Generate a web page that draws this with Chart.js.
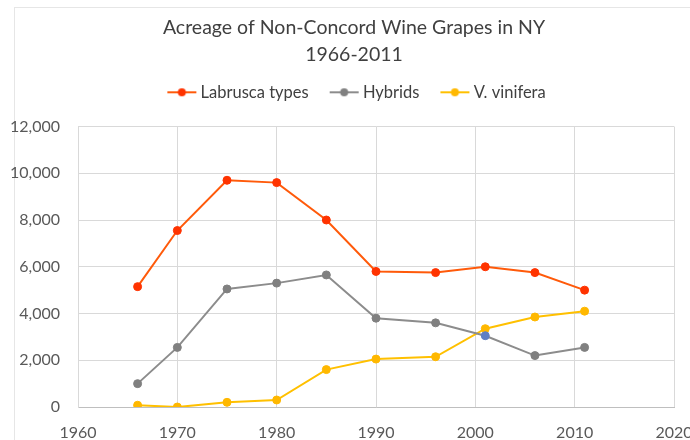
<!DOCTYPE html>
<html>
<head>
<meta charset="utf-8">
<script src="https://cdn.jsdelivr.net/npm/chart.js@4"></script>
<style>
  html, body { margin: 0; padding: 0; background: #fff; }
  #wrap { position: relative; width: 690px; height: 440px; overflow: hidden; }
  #frame { position: absolute; left: 14px; top: 7px; right: 0; bottom: 0;
           border-left: 1px solid #e6e6e6; border-top: 1px solid #e6e6e6; }
  canvas { position: absolute; left: 0; top: 0; }
</style>
</head>
<body>
<div id="wrap">
  <div id="frame"></div>
  <canvas id="chart" width="708" height="440"></canvas>
</div>
<script>
// Data
const years = [1966, 1970, 1975, 1980, 1985, 1990, 1996, 2001, 2006, 2011];
const labrusca = [5150, 7550, 9700, 9600, 8000, 5800, 5750, 6000, 5750, 5000];
const hybrids = [1000, 2550, 5050, 5300, 5650, 3800, 3600, 3050, 2200, 2550];
const vinifera = [75, 0, 200, 300, 1600, 2050, 2150, 3350, 3850, 4100];
const seriesNames = ["Labrusca types", "Hybrids", "V. vinifera"];
const xTicks = [1960, 1970, 1980, 1990, 2000, 2010, 2020];
const yTicks = [0, 2000, 4000, 6000, 8000, 10000, 12000];

const FONT = "Lato, 'Open Sans', sans-serif";

// line + dot image for the legend (marker sits in the right part of the image)
function legendMarker(lineColor, dotColor) {
    const c = document.createElement('canvas');
    c.width = 40; c.height = 10;
    const ctx = c.getContext('2d');
    ctx.strokeStyle = lineColor;
    ctx.lineWidth = 2;
    ctx.beginPath();
    ctx.moveTo(10, 5); ctx.lineTo(39, 5);
    ctx.stroke();
    ctx.fillStyle = dotColor;
    ctx.beginPath();
    ctx.arc(24.5, 5, 4, 0, Math.PI * 2);
    ctx.fill();
    return c;
}

function toPoints(values) {
    return values.map((v, i) => ({ x: years[i], y: v }));
}

const styles = [
    { line: '#ff5a0a', dot: '#ff3300' },
    { line: '#8c8c8c', dot: '#808080' },
    { line: '#ffc000', dot: '#ffb800' }
];
const markers = styles.map(s => legendMarker(s.line, s.dot));
const hybridDot = c => (c.dataIndex === 7 ? '#5f7fc4' : styles[1].dot);

const ctx = document.getElementById('chart');

new Chart(ctx, {
    type: 'line',
    data: {
        datasets: [labrusca, hybrids, vinifera].map((vals, i) => ({
            label: seriesNames[i],
            data: toPoints(vals),
            borderColor: styles[i].line,
            backgroundColor: styles[i].dot,
            pointBackgroundColor: i === 1 ? hybridDot : styles[i].dot,
            pointBorderColor: i === 1 ? hybridDot : styles[i].dot,
            borderWidth: 2,
            pointRadius: 4,
            pointBorderWidth: 1,
            pointHoverRadius: 4,
            tension: 0
        }))
    },
    options: {
        responsive: false,
        animation: false,
        layout: { padding: 0 },
        plugins: {
            title: {
                display: true,
                text: ['Acreage of Non-Concord Wine Grapes in NY', '1966-2011'],
                color: '#404040',
                font: { family: FONT, size: 19.5, weight: 'normal', lineHeight: 1.385 },
                padding: { top: 14, bottom: 0 }
            },
            // empty subtitle used as a spacer between legend and plot
            subtitle: {
                display: true,
                text: '',
                weight: 100,
                font: { size: 1, lineHeight: 1 },
                padding: { top: 15, bottom: 0 }
            },
            legend: {
                display: true,
                labels: {
                    color: '#404040',
                    font: { family: FONT, size: 16.5 },
                    padding: 16,
                    usePointStyle: true,
                    pointStyleWidth: 30,
                    generateLabels(chart) {
                        const items = Chart.defaults.plugins.legend.labels.generateLabels(chart);
                        items.forEach((it, i) => { it.pointStyle = markers[i]; });
                        return items;
                    }
                }
            },
            tooltip: { enabled: false }
        },
        scales: {
            x: {
                type: 'linear',
                min: 1960,
                max: 2020,
                afterBuildTicks(scale) { scale.ticks = xTicks.map(v => ({ value: v })); },
                afterFit(scale) {
                    scale.height = 33;
                    scale.paddingLeft = 0;
                    scale.paddingRight = 0;
                },
                grid: { color: '#d9d9d9', drawTicks: false },
                border: { color: '#bfbfbf' },
                ticks: {
                    color: '#595959',
                    font: { family: FONT, size: 16 },
                    padding: 16,
                    callback: v => String(v)
                }
            },
            y: {
                min: 0,
                max: 12000,
                afterBuildTicks(scale) { scale.ticks = yTicks.map(v => ({ value: v })); },
                afterFit(scale) {
                    scale.width = 78;
                    scale.paddingTop = 0;
                    scale.paddingBottom = 0;
                },
                grid: { color: '#d9d9d9', drawTicks: false },
                border: { color: '#d9d9d9' },
                ticks: {
                    color: '#595959',
                    font: { family: FONT, size: 16 },
                    padding: 18,
                    callback: v => v.toLocaleString('en-US')
                }
            },
            // blank right-hand box so the plot ends where the reference does
            yRight: {
                type: 'linear',
                axis: 'y',
                position: 'right',
                min: 0,
                max: 12000,
                afterFit(scale) {
                    scale.width = 34;
                    scale.paddingTop = 0;
                    scale.paddingBottom = 0;
                },
                grid: { display: false, drawTicks: false },
                border: { display: false },
                ticks: { display: false }
            }
        }
    }
});
</script>
</body>
</html>
